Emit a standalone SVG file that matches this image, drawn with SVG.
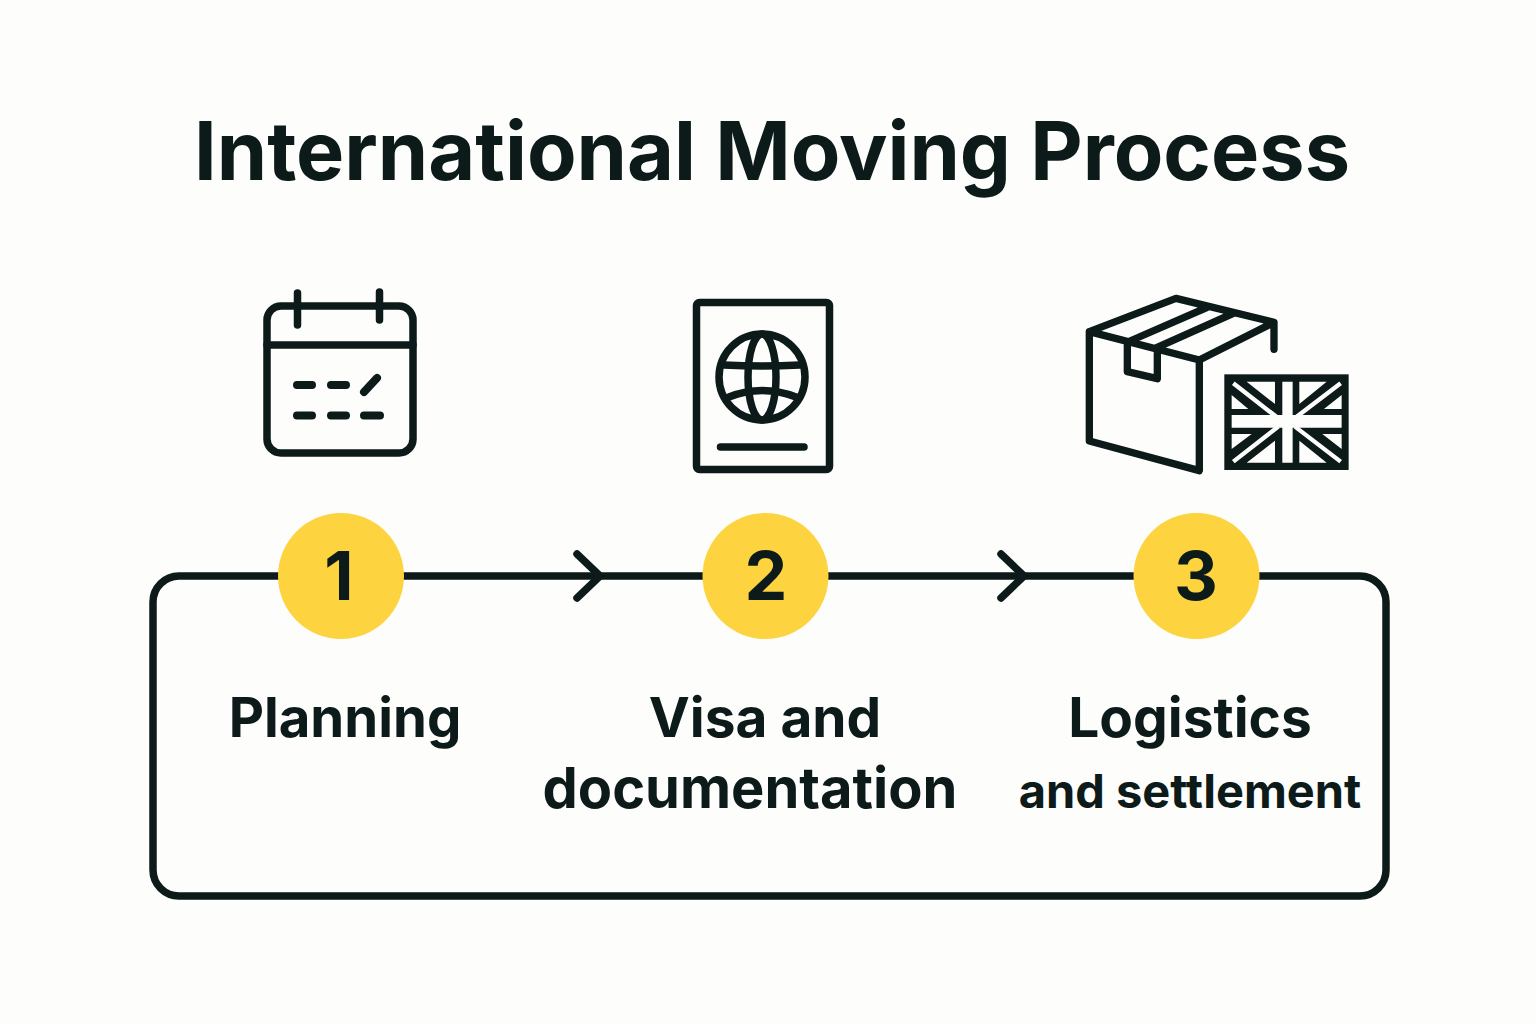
<svg xmlns="http://www.w3.org/2000/svg" width="1536" height="1024" viewBox="0 0 1536 1024">
<style>
.l{fill:none;stroke:#0c1a1a;stroke-width:7.500;stroke-linecap:round;stroke-linejoin:round}
.b{fill:none;stroke:#0c1a1a;stroke-width:22;stroke-linecap:round;stroke-linejoin:round}
.d{fill:none;stroke:#0c1a1a;stroke-width:8;stroke-linecap:round}
.w{fill:#fdfdfb}
.wl{fill:none;stroke:#fdfdfb;stroke-width:13}
.t{font-family:Inter,"Liberation Sans",sans-serif;fill:#0c1a1a;font-weight:700}
.c{fill:#fdd43f}
.n{font-size:68px;text-anchor:middle}
.m{font-size:55px;text-anchor:middle}
</style>
<rect width="1536" height="1024" fill="#fdfdfb"/>
<text class="t" x="772" y="180" font-size="81" text-anchor="middle">International Moving Process</text>
<g id="connectors">
<rect class="l" x="153" y="576" width="1233" height="320" rx="26"/>
<path class="l" d="M577 554L600 576L577 598M1001 554L1024 576L1001 598"/>
</g>
<g id="node1">
<circle class="c" cx="341" cy="576" r="63"/>
<text class="t n" x="339" y="600">1</text>
<text class="t" x="345" y="737" font-size="54.500" text-anchor="middle">Planning</text>
<rect class="l" x="267" y="306" width="146" height="147" rx="14"/>
<path class="l" d="M267 345H413M297.500 293V325M379.500 292V320"/>
<path class="d" d="M297 385H312M331 385H346M364 392L377 378M297 415.500H312M331 415.500H346M364 415.500H380"/>
</g>
<g id="node2">
<circle class="c" cx="765.500" cy="576" r="63"/>
<text class="t n" x="766" y="600">2</text>
<text class="t m" x="765" y="737">Visa and</text>
<text class="t" x="750" y="808" font-size="56" text-anchor="middle">documentation</text>
<rect class="l" x="696.500" y="302.500" width="133" height="167" rx="3"/>
<circle class="l" cx="762" cy="377" r="43"/>
<ellipse class="l" cx="762" cy="377" rx="14" ry="43"/>
<path class="l" d="M724 365Q762 367 800 365M729 397Q762 384 796 397M720.500 447H804"/>
</g>
<g id="node3">
<circle class="c" cx="1196.500" cy="576" r="63"/>
<text class="t n" x="1196" y="600">3</text>
<text class="t m" x="1190" y="737">Logistics</text>
<text class="t" x="1190" y="808" font-size="47" text-anchor="middle">and settlement</text>
<g transform="translate(1070 280) scale(.3333)">
<path class="b" d="M58 155L318 55L612 127L388 240ZM58 155V483L388 572V240M612 127V208M180 183L410 83M255 205L490 100M172 185V275L262 296V212"/>
<rect x="463" y="283" width="373" height="287" fill="#0c1a1a"/>
<path class="w" d="M530 305H615V372ZM688 305H770L688 372ZM485 345L535 387H485ZM815 345V387H762ZM485 462H545L485 507ZM757 462H815V507ZM530 548L615 482V548ZM688 482L770 548H688ZM637 305H668V405H815V443H668V548H637V443H485V405H637Z"/>
<path class="wl" d="M490 310L625 415M812 310L680 410M490 545L625 440M812 545L675 440"/>
</g>
</g>
</svg>
